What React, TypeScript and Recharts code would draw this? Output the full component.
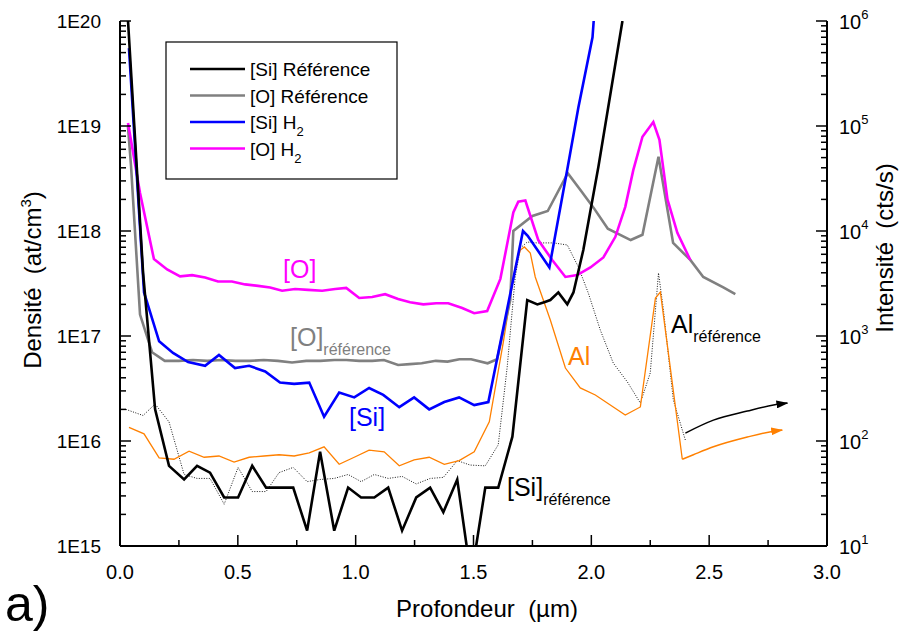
import React from 'react';
import { LineChart, Line, XAxis, YAxis } from 'recharts';

// profils SIMS : [profondeur (µm), densité (at/cm3)] ou [profondeur, intensité (cts/s)]
const siReference = [
  [0.034, 1.0e20], [0.098, 4.0e17], [0.149, 2.0e16], [0.208, 5.8e15], [0.272, 4.3e15], [0.327, 5.8e15],
  [0.382, 5.0e15], [0.442, 2.9e15], [0.501, 2.9e15], [0.561, 5.8e15], [0.62, 3.6e15], [0.675, 3.6e15],
  [0.735, 3.6e15], [0.794, 1.4e15], [0.849, 7.9e15], [0.909, 1.4e15], [0.968, 3.6e15], [1.023, 2.9e15],
  [1.079, 2.9e15], [1.138, 3.6e15], [1.197, 1.4e15], [1.257, 2.9e15], [1.316, 3.6e15], [1.372, 2.1e15],
  [1.431, 4.3e15], [1.49, 5.0e14], [1.55, 3.6e15], [1.605, 3.6e15], [1.665, 1.1e16], [1.728, 2.2e17],
  [1.771, 2.0e17], [1.80, 2.1e17], [1.826, 2.2e17], [1.86, 2.6e17], [1.898, 2.0e17], [1.924, 2.6e17],
  [1.966, 6.6e17], [2.03, 4.1e18], [2.132, 1.0e20],
];

const oReference = [
  [0.034, 9.8e18], [0.047, 4.1e18], [0.085, 1.6e17], [0.136, 7.0e16], [0.19, 5.8e16], [0.25, 5.8e16],
  [0.31, 5.9e16], [0.37, 5.8e16], [0.43, 5.9e16], [0.49, 5.8e16], [0.55, 5.8e16], [0.61, 5.9e16],
  [0.67, 5.8e16], [0.73, 5.6e16], [0.79, 5.8e16], [0.85, 5.8e16], [0.91, 5.9e16], [0.96, 5.9e16],
  [1.015, 5.8e16], [1.07, 5.8e16], [1.12, 5.9e16], [1.18, 5.3e16], [1.23, 5.4e16], [1.28, 5.5e16],
  [1.34, 5.8e16], [1.39, 5.7e16], [1.44, 6.0e16], [1.49, 6.0e16], [1.56, 5.5e16], [1.60, 6.0e16],
  [1.656, 2.2e17], [1.669, 1.0e18], [1.75, 1.39e18], [1.815, 1.55e18], [1.9, 3.56e18], [1.96, 2.35e18],
  [2.01, 1.66e18], [2.07, 1.05e18], [2.167, 8.2e17], [2.217, 9.2e17], [2.285, 5.1e18], [2.347, 7.7e17],
  [2.42, 5.3e17], [2.475, 3.65e17], [2.56, 2.9e17], [2.611, 2.5e17],
];

const siH2 = [
  [0.038, 5.5e19], [0.102, 2.6e17], [0.166, 8.9e16], [0.225, 6.9e16], [0.289, 5.65e16], [0.361, 5.2e16],
  [0.42, 6.6e16], [0.488, 4.95e16], [0.548, 5.2e16], [0.616, 4.6e16], [0.679, 3.6e16], [0.739, 3.5e16],
  [0.803, 3.6e16], [0.866, 1.7e16], [0.93, 2.9e16], [0.994, 2.6e16], [1.057, 3.2e16], [1.117, 2.75e16],
  [1.185, 2.1e16], [1.248, 2.6e16], [1.312, 2.0e16], [1.376, 2.35e16], [1.439, 2.6e16], [1.503, 2.2e16],
  [1.563, 2.35e16], [1.71, 1.0e18], [1.73, 9.0e17], [1.822, 4.5e17], [1.90, 4.1e18], [1.945, 1.5e19],
  [2.005, 7.0e19], [2.01, 1.0e20],
];

const oH2 = [
  [0.034, 1.07e19], [0.085, 2.3e18], [0.144, 5.4e17], [0.2, 4.3e17], [0.255, 3.7e17], [0.306, 3.8e17],
  [0.361, 3.6e17], [0.416, 3.3e17], [0.475, 3.3e17], [0.531, 3.1e17], [0.586, 3.0e17], [0.637, 2.9e17],
  [0.688, 2.7e17], [0.743, 2.8e17], [0.798, 2.75e17], [0.858, 2.7e17], [0.913, 2.8e17], [0.96, 2.87e17],
  [1.015, 2.3e17], [1.07, 2.35e17], [1.125, 2.5e17], [1.18, 2.25e17], [1.231, 2.1e17], [1.287, 2.0e17],
  [1.342, 2.05e17], [1.393, 2.05e17], [1.452, 1.85e17], [1.503, 1.65e17], [1.558, 1.73e17], [1.614, 3.5e17],
  [1.669, 1.5e18], [1.69, 1.9e18], [1.72, 1.95e18], [1.775, 8.2e17], [1.834, 5.3e17], [1.89, 3.65e17],
  [1.94, 3.8e17], [1.996, 4.5e17], [2.051, 5.6e17], [2.102, 8.8e17], [2.144, 1.7e18], [2.178, 3.8e18],
  [2.217, 7.9e18], [2.263, 1.09e19], [2.289, 7.4e18], [2.323, 2.0e18], [2.365, 9.6e17], [2.42, 5.3e17],
];

// intensités Al (axe de droite)
const alH2 = [
  [0.038, 135], [0.102, 117], [0.166, 69], [0.229, 67], [0.293, 80], [0.357, 70], [0.42, 72], [0.484, 63],
  [0.548, 70], [0.611, 72], [0.675, 74], [0.739, 72], [0.803, 77], [0.866, 88], [0.93, 60], [0.994, 70],
  [1.057, 82], [1.121, 79], [1.185, 58], [1.248, 66], [1.312, 70], [1.376, 60], [1.439, 65], [1.503, 79],
  [1.567, 152], [1.626, 858], [1.677, 4540], [1.699, 6590], [1.716, 7050], [1.741, 6170], [1.762, 3650],
  [1.826, 1420], [1.89, 495], [1.953, 320], [2.017, 274], [2.144, 177], [2.208, 211], [2.272, 2300],
  [2.293, 2620], [2.386, 67],
];

const alReference = [
  [0.025, 200], [0.098, 175], [0.149, 225], [0.208, 152], [0.272, 48], [0.327, 44], [0.382, 44], [0.442, 25],
  [0.501, 56], [0.561, 33], [0.62, 33], [0.675, 50], [0.735, 56], [0.794, 41], [0.849, 43], [0.909, 44],
  [0.968, 48], [1.023, 41], [1.079, 48], [1.138, 44], [1.197, 46], [1.257, 39], [1.316, 44], [1.372, 45],
  [1.431, 65], [1.486, 59], [1.55, 58], [1.605, 92], [1.643, 507], [1.677, 3650], [1.699, 6890],
  [1.728, 7850], [1.77, 7700], [1.84, 7700], [1.898, 7360], [1.945, 4540], [1.987, 2570], [2.038, 1140],
  [2.093, 553], [2.153, 365], [2.208, 230], [2.25, 445], [2.285, 3980], [2.306, 1770], [2.348, 245],
  [2.399, 102],
];

// flèches (prolongement des profils Al)
const arrowAlReference = [[2.399, 119], [2.518, 158], [2.662, 193], [2.773, 220], [2.832, 230]];
const arrowAlH2 = [[2.386, 67], [2.433, 74], [2.518, 88], [2.662, 109], [2.773, 124], [2.81, 127]];

const xTicks = [0, 0.25, 0.5, 0.75, 1, 1.25, 1.5, 1.75, 2, 2.25, 2.5, 2.75, 3];
const leftDecades = [1e15, 1e16, 1e17, 1e18, 1e19, 1e20];
const leftLabels = ['1E15', '1E16', '1E17', '1E18', '1E19', '1E20'];
const rightDecades = [10, 100, 1000, 1e4, 1e5, 1e6];
const rightExponents = ['1', '2', '3', '4', '5', '6'];

const minors = (decades: number[]) => {
  const out: number[] = [];
  decades.slice(0, -1).forEach(d => [1, 2, 3, 4, 5, 6, 7, 8, 9].forEach(m => out.push(m * d)));
  out.push(decades[decades.length - 1]);
  return out;
};

const toPts = (a: number[][]) => a.map(([x, y]) => ({ x, y }));

// cadre du graphe (px)
const L = 120;
const R = 827;
const T = 21;
const B = 546;
const FONT = 'Liberation Sans, Arial, Helvetica, sans-serif';

const isMajorX = (v: number) => Math.abs(v * 2 - Math.round(v * 2)) < 1e-6;

const BottomTick = (p: any) => {
  const v = p.payload.value;
  const major = isMajorX(v);
  return (
    <g>
      <line x1={p.x} x2={p.x} y1={B} y2={B - (major ? 11 : 6)} stroke="#000" strokeWidth={1.5} />
      {major && (
        <text x={p.x} y={579} textAnchor="middle" fontSize={20} fontFamily={FONT} fill="#000">
          {v.toFixed(1)}
        </text>
      )}
    </g>
  );
};

const TopTick = (p: any) => {
  const major = isMajorX(p.payload.value);
  return <line x1={p.x} x2={p.x} y1={T} y2={T + (major ? 11 : 6)} stroke="#000" strokeWidth={1.5} />;
};

const LeftTick = (p: any) => {
  const i = leftDecades.indexOf(p.payload.value);
  const major = i >= 0;
  return (
    <g>
      <line x1={L} x2={L + (major ? 11 : 6)} y1={p.y} y2={p.y} stroke="#000" strokeWidth={1.5} />
      {major && (
        <text x={101} y={p.y + 7} textAnchor="end" fontSize={19} fontFamily={FONT} fill="#000">
          {leftLabels[i]}
        </text>
      )}
    </g>
  );
};

const RightTick = (p: any) => {
  const i = rightDecades.indexOf(p.payload.value);
  const major = i >= 0;
  return (
    <g>
      <line x1={R} x2={R - (major ? 11 : 6)} y1={p.y} y2={p.y} stroke="#000" strokeWidth={1.5} />
      {major && (
        <text x={839} y={p.y + 8} fontSize={20} fontFamily={FONT} fill="#000">
          10
          <tspan dy={-10} fontSize={13}>{rightExponents[i]}</tspan>
        </text>
      )}
    </g>
  );
};

const legendItems = [
  { label: '[Si] Référence', sub: '', color: '#000000' },
  { label: '[O] Référence', sub: '', color: '#808080' },
  { label: '[Si] H', sub: '2', color: '#0000ff' },
  { label: '[O] H', sub: '2', color: '#ff00ff' },
];

export default function App() {
  const thick = 2.6;
  return (
    <div style={{ position: 'absolute', left: 0, top: 0, width: 910, height: 636, background: '#fff' }}>
      <svg width={0} height={0} style={{ position: 'absolute' }}>
        <defs>
          <marker id="headK" viewBox="0 0 12 8" refX={11} refY={4} markerWidth={12} markerHeight={8}
            markerUnits="userSpaceOnUse" orient="auto">
            <path d="M0,0 L12,4 L0,8 z" fill="#000" />
          </marker>
          <marker id="headO" viewBox="0 0 12 8" refX={11} refY={4} markerWidth={12} markerHeight={8}
            markerUnits="userSpaceOnUse" orient="auto">
            <path d="M0,0 L12,4 L0,8 z" fill="#ff8000" />
          </marker>
        </defs>
      </svg>
      <LineChart width={910} height={636} margin={{ top: T, right: 0, bottom: 0, left: 0 }}>
        <XAxis xAxisId="b" type="number" dataKey="x" domain={[0, 3]} ticks={xTicks} interval={0}
          height={636 - B} axisLine={{ stroke: '#000', strokeWidth: 2 }} tickLine={false} tick={BottomTick} />
        <XAxis xAxisId="t" orientation="top" type="number" dataKey="x" domain={[0, 3]} ticks={xTicks}
          interval={0} height={0} axisLine={{ stroke: '#000', strokeWidth: 2 }} tickLine={false} tick={TopTick} />
        <YAxis yAxisId="l" type="number" scale="log" domain={[1e15, 1e20]} allowDataOverflow
          ticks={minors(leftDecades)} interval={0} width={L} axisLine={{ stroke: '#000', strokeWidth: 2 }}
          tickLine={false} tick={LeftTick} />
        <YAxis yAxisId="r" orientation="right" type="number" scale="log" domain={[10, 1e6]} allowDataOverflow
          ticks={minors(rightDecades)} interval={0} width={910 - R} axisLine={{ stroke: '#000', strokeWidth: 2 }}
          tickLine={false} tick={RightTick} />

        <Line xAxisId="b" yAxisId="r" data={toPts(alReference)} dataKey="y" type="linear" stroke="#000"
          strokeWidth={0.9} strokeDasharray="1 1.5" dot={false} isAnimationActive={false} />
        <Line xAxisId="b" yAxisId="r" data={toPts(alH2)} dataKey="y" type="linear" stroke="#ff8000"
          strokeWidth={1.3} dot={false} isAnimationActive={false} />
        <Line xAxisId="b" yAxisId="r" data={toPts(arrowAlReference)} dataKey="y" type="monotone" stroke="#000"
          strokeWidth={1.5} dot={false} markerEnd="url(#headK)" isAnimationActive={false} />
        <Line xAxisId="b" yAxisId="r" data={toPts(arrowAlH2)} dataKey="y" type="monotone" stroke="#ff8000"
          strokeWidth={1.5} dot={false} markerEnd="url(#headO)" isAnimationActive={false} />
        <Line xAxisId="b" yAxisId="l" data={toPts(oReference)} dataKey="y" type="linear" stroke="#808080"
          strokeWidth={thick} dot={false} isAnimationActive={false} />
        <Line xAxisId="b" yAxisId="l" data={toPts(oH2)} dataKey="y" type="linear" stroke="#ff00ff"
          strokeWidth={thick} dot={false} isAnimationActive={false} />
        <Line xAxisId="b" yAxisId="l" data={toPts(siH2)} dataKey="y" type="linear" stroke="#0000ff"
          strokeWidth={thick} dot={false} isAnimationActive={false} />
        <Line xAxisId="b" yAxisId="l" data={toPts(siReference)} dataKey="y" type="linear" stroke="#000"
          strokeWidth={thick} dot={false} isAnimationActive={false} />
      </LineChart>

      <svg width={910} height={636} style={{ position: 'absolute', left: 0, top: 0, pointerEvents: 'none' }}
        fontFamily={FONT}>
        <rect x={166} y={42} width={231} height={137} fill="#fff" stroke="#000" strokeWidth={1.2} />
        {legendItems.map((it, i) => {
          const y = 69 + i * 26.5;
          return (
            <g key={it.label}>
              <line x1={190} x2={245} y1={y} y2={y} stroke={it.color} strokeWidth={thick} />
              <text x={250} y={y + 7} fontSize={19} fill="#000">
                {it.label}
                {it.sub && <tspan dy={7} fontSize={13}>{it.sub}</tspan>}
              </text>
            </g>
          );
        })}

        <text x={283} y={278} fontSize={25} fill="#ff00ff">[O]</text>
        <text x={290} y={346} fontSize={25} fill="#808080">
          [O]<tspan dy={9} fontSize={16}>référence</tspan>
        </text>
        <text x={349} y={426} fontSize={25} fill="#0000ff">[Si]</text>
        <text x={507} y={496} fontSize={25} fill="#000">
          [Si]<tspan dy={9} fontSize={16}>référence</tspan>
        </text>
        <text x={568} y={365} fontSize={25} fill="#ff8000">Al</text>
        <text x={671} y={333} fontSize={25} fill="#000">
          Al<tspan dy={9} fontSize={16}>référence</tspan>
        </text>

        <text transform="translate(41,280) rotate(-90)" textAnchor="middle" fontSize={24} fill="#000">
          {'Densité\u00a0\u00a0(at/cm'}<tspan dy={-10} fontSize={15}>3</tspan><tspan dy={10}>)</tspan>
        </text>
        <text transform="translate(893,248) rotate(-90)" textAnchor="middle" fontSize={24} fill="#000">
          {'Intensité\u00a0\u00a0(cts/s)'}
        </text>
        <text x={487} y={617} textAnchor="middle" fontSize={24} fill="#000">{'Profondeur\u00a0\u00a0(µm)'}</text>
        <text x={5} y={621} fontSize={50} fill="#000">a)</text>
      </svg>
    </div>
  );
}
